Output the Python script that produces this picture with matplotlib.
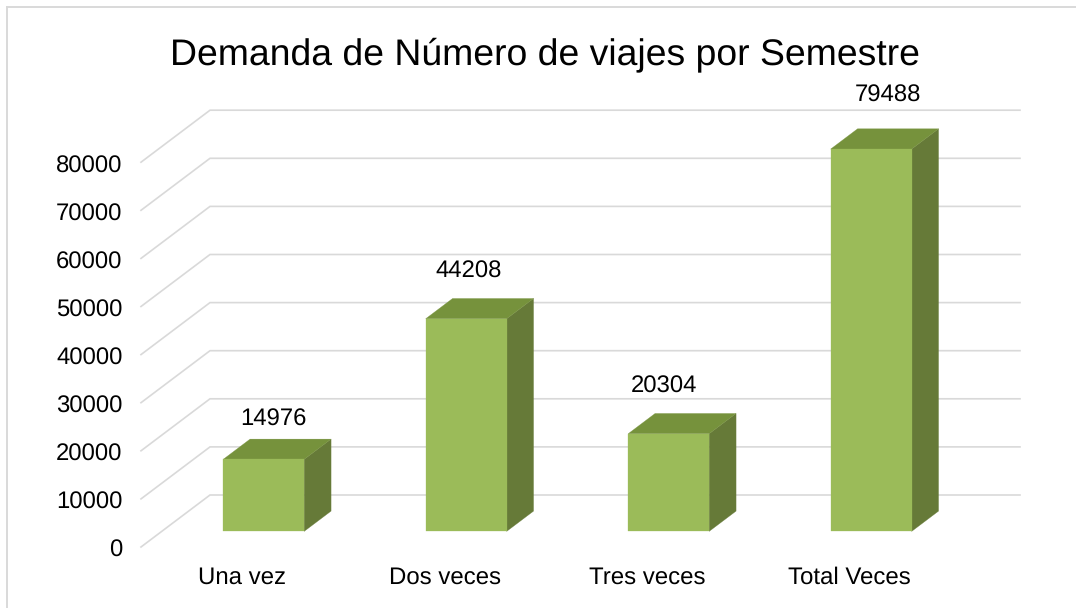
import matplotlib
matplotlib.use("Agg")
import matplotlib.pyplot as plt
from matplotlib.patches import Polygon
from matplotlib.transforms import ScaledTranslation
import numpy as np

categories = ["Una vez", "Dos veces", "Tres veces", "Total Veces"]
values = [14976, 44208, 20304, 79488]
y_ticks = [0, 10000, 20000, 30000, 40000, 50000, 60000, 70000, 80000]

plt.rcParams["font.family"] = ["Liberation Sans", "DejaVu Sans"]
plt.rcParams["text.hinting"] = "none"

W, H = 1076, 608
FRONT_COLOR = "#9BBB59"
TOP_COLOR = "#76923C"
SIDE_COLOR = "#667A38"
GRID_COLOR = "#D9D9D9"

fig = plt.figure(figsize=(W / 100, H / 100), dpi=100)
# axes is the front plane of the 3D box, in pixels: x 141-951, y 547-162
ax = fig.add_axes([141 / W, (H - 547) / H, 810 / W, 384.8 / H])
ax.set_xlim(-0.5, 3.5)
ax.set_ylim(0, 80000)
ax.patch.set_alpha(0)
for spine in ax.spines.values():
    spine.set_visible(False)

# oblique projection: full box depth in data units
DEPTH_X = 69 / 202.5
DEPTH_Y = 52 / 48.1 * 10000


def project(x, y, d):
    return x + DEPTH_X * d, y + DEPTH_Y * d


# wall gridlines
for t in y_ticks:
    xs = [-0.5, -0.5 + DEPTH_X, 3.5 + DEPTH_X]
    ys = [t, t + DEPTH_Y, t + DEPTH_Y]
    ax.plot(xs, ys, color=GRID_COLOR, lw=1.2, clip_on=False, zorder=1,
            solid_joinstyle="miter")

# 3D bars
bar_w = 0.4
bar_shift = 0.0035
d0, d1 = 0.30, 0.69
label_nudge = [10, 3, -3.5, 18]
label_gap = [40, 47, 47, 54]
for i, v in enumerate(values):
    x0, x1 = i - bar_w / 2 + bar_shift, i + bar_w / 2 + bar_shift
    front = [project(x0, 0, d0), project(x1, 0, d0), project(x1, v, d0), project(x0, v, d0)]
    top = [project(x0, v, d0), project(x1, v, d0), project(x1, v, d1), project(x0, v, d1)]
    side = [project(x1, 0, d0), project(x1, 0, d1), project(x1, v, d1), project(x1, v, d0)]
    for pts, c in [(side, SIDE_COLOR), (top, TOP_COLOR), (front, FRONT_COLOR)]:
        ax.add_patch(Polygon(pts, closed=True, facecolor=c, edgecolor=c, lw=0.2,
                             clip_on=False, zorder=3))
    lx, ly = project(i, v, d0)
    ax.annotate(str(v), (lx, ly), xytext=(label_nudge[i] * 0.72, label_gap[i] * 0.72),
                textcoords="offset points", ha="center", va="center",
                fontsize=17.2, color="black", annotation_clip=False, zorder=4)

ax.set_xticks(np.arange(len(categories)))
ax.set_xticklabels(categories, fontsize=17.3, color="black")
ax.set_yticks(y_ticks)
ax.set_yticklabels([str(t) for t in y_ticks], fontsize=17.2, color="black")
ax.tick_params(axis="y", length=0, pad=13.2)
ax.tick_params(axis="x", length=0, pad=14)
for lbl in ax.get_yticklabels():
    lbl.set_transform(lbl.get_transform() + ScaledTranslation(0, -1.5 / 100, fig.dpi_scale_trans))

fig.text(545 / W, 1 - 55 / H, "Demanda de Número de viajes por Semestre",
         ha="center", va="center", fontsize=26.9, color="black")

# chart area border, only left and top are inside the crop
fig.add_artist(plt.Line2D([7 / W, 7 / W], [0, 1 - 7 / H], color=GRID_COLOR, lw=1.4))
fig.add_artist(plt.Line2D([7 / W, 1], [1 - 7 / H, 1 - 7 / H], color=GRID_COLOR, lw=1.4))

fig.savefig("out.png", dpi=100, facecolor="white")
